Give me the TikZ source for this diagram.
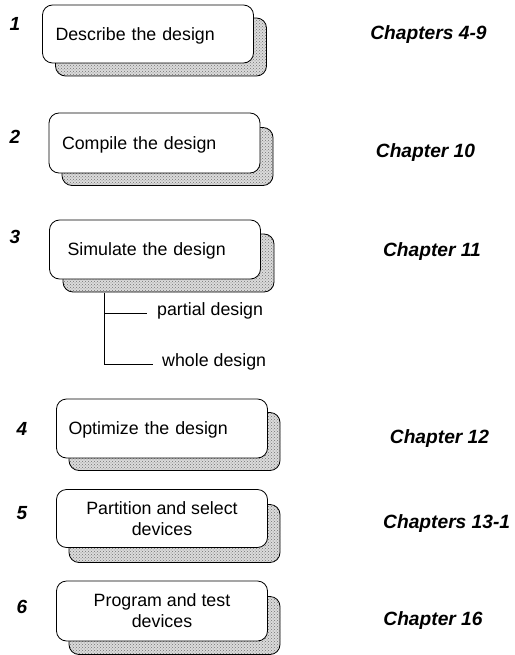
\documentclass[tikz,border=0pt]{standalone}
\usepackage{fontspec}
\setmainfont{Liberation Sans}
\usetikzlibrary{patterns}
\begin{document}
\begin{tikzpicture}[x=1pt,y=-1pt,
  every node/.style={font=\fontsize{17.8}{21}\selectfont},
  frontbox/.style={draw, line width=0.8pt, rounded corners=10pt, fill=white,
     minimum width=211pt, minimum height=59pt, inner ysep=0pt},
  lefttext/.style={text width=#1, align=left, text depth=0pt},
  shadowbox/.style={draw, line width=0.8pt, rounded corners=10pt,
     preaction={fill=black!14}, pattern=crosshatch dots, pattern color=black!55,
     minimum width=211pt, minimum height=58pt},
  stepnum/.style={font=\fontsize{19}{21}\selectfont\bfseries\itshape, inner sep=0pt, anchor=mid},
  chap/.style={font=\fontsize{19.2}{21}\selectfont\bfseries\itshape, inner sep=0pt, anchor=mid},
  branch/.style={inner sep=0pt, anchor=mid west},
  conn/.style={line width=0.8pt}]
\useasboundingbox (0,0) rectangle (514,655);

% shadows
\node[shadowbox] (s1) at (161,47) {};
\node[shadowbox] (s2) at (167.5,156.5) {};
\node[shadowbox] (s3) at (168.5,263) {};
\node[shadowbox] (s4) at (174.5,441.5) {};
\node[shadowbox] (s5) at (174.5,533.5) {};
\node[shadowbox] (s6) at (174.5,625.5) {};

% front boxes
\node[frontbox, minimum height=58pt, inner xsep=13pt, lefttext=185pt] (b1) at (148,34) {Describe the design};
\node[frontbox, minimum height=60pt, inner xsep=13pt, lefttext=185pt] (b2) at (154.5,143) {Compile the design};
\node[frontbox, inner xsep=18pt, lefttext=175pt] (b3) at (155,249.5) {Simulate the design};
\node[frontbox, inner xsep=12pt, lefttext=187pt] (b4) at (162,428.5) {Optimize the design};
\node[frontbox, minimum height=58pt, align=center] (b5) at (162,518.5) {Partition and select\\devices};
\node[frontbox, minimum height=60pt, align=center] (b6) at (162,611) {Program and test\\devices};

% step numbers
\node[stepnum] (n1) at (15,28) {1};
\node[stepnum] (n2) at (15,141) {2};
\node[stepnum] (n3) at (15,241) {3};
\node[stepnum] (n4) at (22,433) {4};
\node[stepnum] (n5) at (22,517) {5};
\node[stepnum] (n6) at (22,611) {6};

% chapters
\node[chap] (c1) at (428.5,37) {Chapters 4-9};
\node[chap] (c2) at (425.5,155) {Chapter 10};
\node[chap] (c3) at (432,254) {Chapter 11};
\node[chap] (c4) at (439.5,441) {Chapter 12};
\node[chap, anchor=mid west] (c5) at (383,526) {Chapters 13-1};
\node[chap] (c6) at (433,623) {Chapter 16};

% simulation branches
\node[branch] (partial) at (157,313) {partial design};
\node[branch] (whole) at (162,364) {whole design};
\coordinate (j) at (104,293);
\draw[conn] (j) |- ([xshift=-10pt]partial.mid west);
\draw[conn] (j) |- ([xshift=-9pt]whole.mid west);
\end{tikzpicture}
\end{document}
